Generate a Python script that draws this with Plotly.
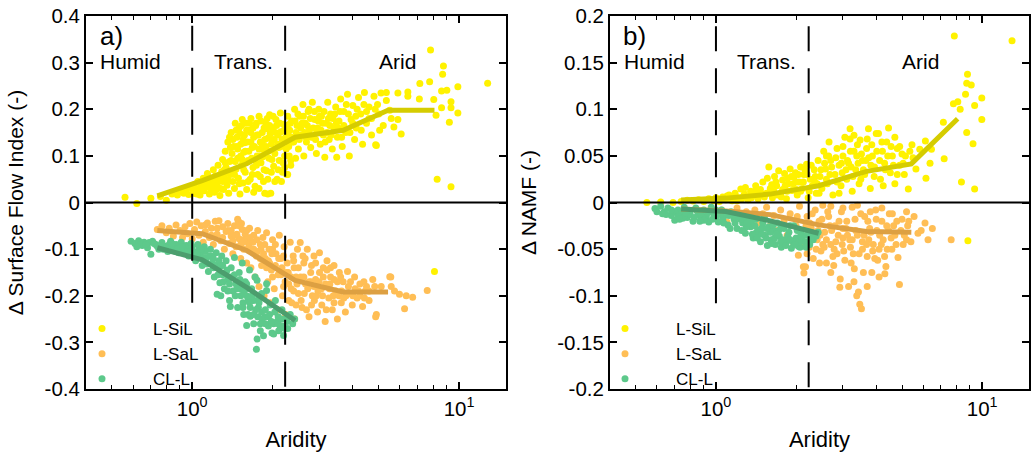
import plotly.graph_objects as go

# ---------------- data ----------------
ya_x = [0.56,0.62,0.70,0.76,0.80,0.84,0.88,0.90,0.93,0.95,0.97,0.98,
        1.01,1.02,1.04,1.05,1.07,1.08,1.1,1.11,1.13,1.14,1.16,1.17,1.18,1.2,1.21,1.22,1.24,1.25,1.27,1.28,1.29,1.3,1.31,
        1.32,1.33,1.34,1.35,1.36,1.37,1.38,1.39,1.4,1.41,1.42,1.43,1.44,1.45,1.46,1.47,1.48,1.49,1.5,1.51,1.52,1.53,1.54,1.55,1.56,1.57,1.58,1.59,1.6,
        1.62,1.63,1.65,1.66,1.68,1.69,1.7,1.72,1.73,1.75,1.76,1.78,1.8,1.81,1.83,1.85,1.86,1.88,1.9,1.92,1.94,1.95,1.97,1.98,2.0,2.02,2.04,2.06,2.08,2.1,2.12,2.14,2.16,2.18,2.2,2.22,2.24,2.26,2.28,2.3,2.32,2.34,2.36,
        1.87,1.92,1.78,1.7,
        2.4,2.42,2.44,2.47,2.5,2.53,2.56,2.6,2.62,2.65,2.68,2.72,2.75,2.78,2.82,2.85,2.88,2.92,2.95,2.98,3.02,3.05,3.1,3.14,3.18,3.22,3.26,3.3,3.35,3.4,3.45,3.5,
        3.55,3.6,3.65,3.7,3.76,3.82,3.88,3.94,4.0,4.06,4.12,4.2,4.28,4.35,4.42,4.5,4.6,4.7,4.8,4.9,5.0,5.1,5.2,
        5.34,5.34,5.5,5.57,5.7,5.9,5.9,6.07,6.43,6.43,7.1,7.13,5.04,4.87,3.48,
        7.82,8.74,8.68,7.76,9.0,8.6,9.9,12.8,8.04,9.33,8.6,9.33,9.9,8.2,9.2,8.28,9.33,8.09,
        1.03,1.06,1.09,1.12,1.15,1.19,1.23,1.26,1.3,1.33,1.36,1.39,1.42,1.45,1.48,1.51,1.54,1.57,1.6,1.63,1.66,1.69,1.72,1.75,1.78,1.81,1.84,1.87,1.9,1.93,1.96,1.99,
        2.03,2.07,2.11,2.15,2.19,2.23,2.27,2.31,2.35,2.45,2.52,2.58,2.64,2.7,2.77,2.84,2.9,2.97,3.04,3.12,3.2,3.28,3.37,3.47,3.58,3.7,3.85,4.0,4.15,4.3,4.5,4.7,4.95,
        1.44,1.5,1.56,1.62,1.68,1.74,1.8,1.86,1.92,1.98,2.04,2.1,2.16,2.22,2.28,2.34]
ya_y = [0.011,-0.002,0.009,0.013,0.005,0.018,0.016,0.024,0.02,0.028,0.017,0.033,
        0.02,0.038,0.028,0.045,0.016,0.034,0.052,0.025,0.04,0.062,0.018,0.031,0.048,0.07,0.022,0.057,0.038,0.08,0.015,0.047,0.066,0.092,0.028,
        0.055,0.11,0.075,0.037,0.13,0.02,0.088,0.06,0.15,0.105,0.045,0.12,0.03,0.17,0.072,0.14,0.095,0.052,0.16,0.018,0.125,0.08,0.178,0.042,0.108,0.145,0.065,0.17,0.028,
        0.09,0.155,0.05,0.18,0.118,0.075,0.14,0.035,0.165,0.1,0.06,0.185,0.13,0.085,0.15,0.045,0.112,0.172,0.068,0.138,0.095,0.188,0.02,0.125,0.16,0.078,0.105,0.178,0.05,0.145,0.09,0.192,0.12,0.065,0.168,0.1,0.14,0.06,0.185,0.12,0.155,0.08,0.175,
        0.02,0.018,0.03,0.022,
        0.13,0.2,0.095,0.165,0.115,0.185,0.145,0.21,0.1,0.17,0.13,0.195,0.155,0.118,0.215,0.14,0.178,0.105,0.16,0.2,0.125,0.185,0.145,0.097,0.17,0.215,0.135,0.19,0.115,0.16,0.205,0.14,
        0.175,0.222,0.12,0.195,0.15,0.232,0.1,0.178,0.208,0.135,0.16,0.225,0.19,0.125,0.236,0.17,0.205,0.145,0.228,0.122,0.19,0.235,0.165,
        0.236,0.219,0.198,0.18,0.162,0.235,0.178,0.147,0.237,0.228,0.222,0.255,0.155,0.124,0.097,
        0.327,0.293,0.275,0.259,0.241,0.239,0.248,0.256,0.221,0.216,0.203,0.203,0.192,0.187,0.172,0.05,0.034,-0.148,
        0.03,0.022,0.042,0.033,0.055,0.04,0.028,0.058,0.045,0.085,0.065,0.118,0.135,0.088,0.115,0.148,0.092,0.128,0.155,0.11,0.13,0.16,0.09,0.145,0.115,0.175,0.098,0.135,0.158,0.11,0.148,0.092,
        0.135,0.165,0.118,0.152,0.085,0.13,0.165,0.1,0.14,0.15,0.135,0.17,0.15,0.165,0.18,0.16,0.135,0.175,0.155,0.195,0.15,0.165,0.18,0.17,0.195,0.165,0.19,0.17,0.2,0.155,0.195,0.18,0.21,
        0.06,0.04,0.07,0.045,0.06,0.08,0.055,0.07,0.05,0.065,0.045,0.07,0.045,0.075,0.06,0.09]
ya_x_more = [1.0,1.04,1.08,1.12,1.16,1.2,1.24,1.28,1.32,1.36,1.4,1.43,1.47,1.52,1.55,1.58,1.61,1.64,1.67,1.71,1.74,1.77,1.8,1.83,1.86,1.89,1.91,1.95,1.99,2.01,
             2.05,2.09,2.13,2.17,2.21,2.25,2.29,2.33,2.37,2.43,2.49,2.55,2.61,2.67,2.74,2.8,2.87,2.93,3.0,3.08,3.15,3.24,3.32,3.42,3.52,3.63,3.78,3.9,4.1,4.4,4.6,4.85,
             1.38,1.46,1.53,1.66]
ya_y_more = [0.03,0.018,0.026,0.05,0.038,0.03,0.05,0.03,0.07,0.048,0.09,0.065,0.12,0.1,0.135,0.11,0.13,0.17,0.095,0.12,0.17,0.145,0.1,0.125,0.16,0.12,0.18,0.165,0.135,0.185,
             0.15,0.125,0.17,0.135,0.155,0.115,0.145,0.17,0.13,0.175,0.19,0.16,0.185,0.14,0.2,0.14,0.195,0.15,0.185,0.17,0.13,0.18,0.145,0.19,0.16,0.14,0.21,0.15,0.185,0.21,0.18,0.2,
             0.14,0.155,0.165,0.15]

oa_x = [0.74,0.77,0.8,0.82,0.85,0.87,0.9,0.92,0.94,0.96,0.98,1.0,
        1.02,1.04,1.06,1.08,1.1,1.12,1.14,1.16,1.18,1.2,1.22,1.24,1.26,1.28,1.3,
        1.32,1.34,1.36,1.38,1.4,1.42,1.44,1.46,1.48,1.5,1.52,1.54,1.56,1.58,1.6,1.49,1.53,
        1.62,1.64,1.66,1.68,1.7,1.72,1.74,1.76,1.78,1.8,1.82,1.84,1.86,1.88,1.9,1.92,1.94,1.96,1.98,2.0,
        2.03,2.06,2.09,2.12,2.15,2.18,2.21,2.24,2.27,2.3,2.33,2.36,2.39,2.42,2.45,2.48,2.5,
        2.54,2.58,2.62,2.66,2.7,2.74,2.78,2.82,2.86,2.9,2.95,3.0,3.05,3.1,3.15,3.2,3.25,3.3,3.35,3.4,3.45,3.5,
        3.56,3.62,3.68,3.75,3.82,3.9,3.98,4.06,4.15,4.25,4.35,4.45,4.5,4.6,4.75,4.83,4.87,4.9,5.11,
        5.5,5.55,5.57,5.73,5.98,6.34,6.7,6.25,7.6,
        1.12,1.18,1.24,1.3,1.36,1.42,1.47,1.52,1.57,1.63,1.69,1.75,1.81,1.87,1.93,1.99,2.05,2.11,2.17,2.23,2.29,2.35,2.41,2.47,
        2.55,2.63,2.71,2.79,2.87,2.96,3.06,3.16,3.27,3.38,3.5,3.63,3.77,3.92,4.08,4.25,4.42,4.6,
        2.0,2.2,2.4,2.6,2.8,3.0,3.2,3.4]
oa_y = [-0.058,-0.05,-0.065,-0.055,-0.072,-0.048,-0.06,-0.075,-0.052,-0.067,-0.045,-0.078,
        -0.058,-0.042,-0.07,-0.05,-0.085,-0.062,-0.044,-0.075,-0.055,-0.09,-0.04,-0.068,-0.039,-0.082,-0.052,
        -0.1,-0.062,-0.045,-0.088,-0.072,-0.11,-0.05,-0.095,-0.036,-0.078,-0.12,-0.058,-0.1,-0.068,-0.13,-0.04,-0.045,
        -0.085,-0.055,-0.14,-0.1,-0.07,-0.16,-0.115,-0.06,-0.18,-0.09,-0.135,-0.075,-0.2,-0.12,-0.065,-0.17,-0.1,-0.215,-0.145,-0.08,
        -0.185,-0.11,-0.23,-0.07,-0.155,-0.2,-0.095,-0.24,-0.13,-0.175,-0.085,-0.215,-0.115,-0.25,-0.16,-0.1,-0.195,
        -0.086,-0.225,-0.13,-0.175,-0.1,-0.245,-0.15,-0.2,-0.115,-0.165,-0.235,-0.108,-0.185,-0.14,-0.255,-0.125,-0.205,-0.16,-0.23,-0.135,-0.19,-0.25,
        -0.15,-0.215,-0.17,-0.235,-0.148,-0.195,-0.22,-0.16,-0.205,-0.175,-0.223,-0.19,-0.18,-0.21,-0.165,-0.18,-0.245,-0.24,-0.18,
        -0.159,-0.16,-0.18,-0.19,-0.197,-0.2,-0.203,-0.228,-0.189,
        -0.048,-0.07,-0.055,-0.075,-0.06,-0.082,-0.068,-0.09,-0.08,-0.095,-0.085,-0.105,-0.1,-0.09,-0.125,-0.11,-0.135,-0.12,-0.14,-0.17,-0.15,-0.185,-0.14,-0.175,
        -0.16,-0.195,-0.185,-0.17,-0.21,-0.19,-0.22,-0.175,-0.185,-0.2,-0.17,-0.19,-0.2,-0.17,-0.185,-0.2,-0.205,-0.19,
        -0.1,-0.115,-0.125,-0.115,-0.135,-0.15,-0.145,-0.165]
oa_x_more = [1.4,1.45,1.5,1.55,1.6,1.65,1.7,1.75,1.8,1.85,1.9,1.95,2.0,2.05,2.1,2.15,2.2,2.25,2.3,2.35,2.4,2.45,2.5,2.56,2.62,2.68,2.74,2.8,2.86,2.92,2.99,
             3.08,3.18,3.28,3.4,3.55,3.7,3.85,4.0,4.2,4.4,2.65,2.9,3.1,3.3,3.6]
oa_y_more = [-0.06,-0.07,-0.05,-0.085,-0.06,-0.075,-0.1,-0.08,-0.12,-0.11,-0.14,-0.13,-0.16,-0.09,-0.155,-0.12,-0.18,-0.15,-0.21,-0.16,-0.19,-0.22,-0.14,-0.21,-0.16,-0.23,-0.17,-0.22,-0.18,-0.2,-0.17,
             -0.2,-0.23,-0.175,-0.215,-0.2,-0.205,-0.18,-0.2,-0.19,-0.17,-0.12,-0.13,-0.16,-0.14,-0.16]

ga_x = [0.59,0.61,0.63,0.65,0.66,0.68,0.7,0.71,0.73,0.75,0.77,0.79,0.81,0.83,0.85,0.87,0.89,0.91,0.93,0.95,0.97,0.99,
        1.01,1.03,1.05,1.07,1.09,1.11,1.13,1.15,1.17,1.19,1.21,1.23,1.24,1.25,1.27,1.28,1.29,1.3,
        1.32,1.34,1.36,1.38,1.39,1.4,1.42,1.44,1.46,1.48,1.5,1.52,1.54,1.56,1.58,1.6,1.62,1.64,1.65,1.67,
        1.7,1.72,1.74,1.75,1.75,1.77,1.8,1.82,1.85,1.87,1.9,1.9,1.93,1.96,1.99,2.02,2.05,2.08,2.11,2.14,2.17,2.2,2.24,2.28,2.33,2.38,2.42,
        0.64,0.69,0.74,0.78,0.82,0.86,0.9,0.94,0.98,1.02,1.06,1.1,1.14,1.18,1.22,1.26,1.31,1.35,1.4,1.45,1.5,1.55,1.6,1.65,1.7,1.76,1.82,1.88,1.95,2.02,2.1,2.18,
        1.12,1.2,1.28,1.36,1.44,1.52,1.6,1.68,1.78]
ga_y = [-0.083,-0.088,-0.082,-0.092,-0.085,-0.097,-0.111,-0.083,-0.09,-0.1,-0.086,-0.094,-0.105,-0.083,-0.098,-0.09,-0.108,-0.085,-0.1,-0.092,-0.115,-0.088,
        -0.105,-0.125,-0.09,-0.112,-0.135,-0.095,-0.12,-0.148,-0.1,-0.13,-0.16,-0.108,-0.197,-0.14,-0.172,-0.2,-0.115,-0.155,
        -0.185,-0.125,-0.165,-0.21,-0.223,-0.14,-0.19,-0.118,-0.175,-0.225,-0.15,-0.2,-0.13,-0.24,-0.17,-0.264,-0.21,-0.145,-0.244,-0.185,
        -0.26,-0.16,-0.315,-0.293,-0.167,-0.225,-0.275,-0.195,-0.286,-0.245,-0.189,-0.174,-0.265,-0.22,-0.28,-0.282,-0.21,-0.255,-0.275,-0.268,-0.23,-0.285,-0.25,-0.27,-0.24,-0.26,-0.25,
        -0.09,-0.086,-0.094,-0.1,-0.09,-0.104,-0.097,-0.108,-0.1,-0.115,-0.1,-0.118,-0.132,-0.115,-0.135,-0.125,-0.17,-0.145,-0.16,-0.2,-0.175,-0.215,-0.185,-0.225,-0.21,-0.245,-0.235,-0.26,-0.24,-0.26,-0.245,-0.265,
        -0.105,-0.14,-0.135,-0.19,-0.155,-0.185,-0.2,-0.2,-0.205]
ga_x_more = [0.62,0.67,0.72,0.76,0.8,0.84,0.88,0.92,0.96,1.0,1.04,1.08,1.12,1.16,1.2,1.25,1.3,1.34,1.38,1.42,1.47,1.51,1.56,1.6,1.64,1.69,1.73,1.78,1.83,1.88,1.93,1.98,
             2.04,2.1,2.16,2.22,2.27,1.55,1.62,1.7,1.8]
ga_y_more = [-0.095,-0.09,-0.088,-0.092,-0.097,-0.088,-0.1,-0.095,-0.105,-0.095,-0.11,-0.1,-0.125,-0.115,-0.12,-0.155,-0.135,-0.15,-0.175,-0.16,-0.185,-0.165,-0.195,-0.175,-0.215,-0.195,-0.23,-0.215,-0.25,-0.23,-0.245,-0.255,
             -0.235,-0.26,-0.25,-0.27,-0.255,-0.225,-0.24,-0.24,-0.26]

yb_x = [0.55,0.62,0.69,0.74,0.78,0.82,0.86,0.9,0.94,0.98,
        1.0,1.03,1.06,1.09,1.12,1.15,1.18,1.21,1.24,1.27,1.29,1.32,1.35,1.38,1.41,1.44,1.47,1.5,1.53,1.56,1.58,1.6,
        1.63,1.66,1.69,1.72,1.75,1.78,1.81,1.84,1.87,1.9,1.93,1.96,1.99,2.02,2.05,2.08,2.11,2.14,2.19,2.22,2.26,2.3,2.34,2.38,
        2.42,2.46,2.5,2.54,2.58,2.62,2.66,2.7,2.75,2.8,2.85,2.9,2.95,3.0,3.05,3.1,3.15,3.19,3.19,3.25,3.3,3.35,3.4,3.48,3.45,
        3.55,3.62,3.68,3.74,3.8,3.87,3.94,4.0,4.08,4.15,4.22,4.3,4.38,4.45,4.52,4.6,4.7,4.8,4.9,5.0,5.1,5.28,5.35,5.5,5.64,5.83,
        6.12,6.15,6.37,6.45,7.15,7.2,7.8,7.86,8.1,8.27,8.36,8.66,8.75,8.75,8.81,9.1,9.24,9.37,9.37,9.97,9.97,12.95,8.84,
        1.05,1.12,1.2,1.28,1.36,1.44,1.52,1.62,1.7,1.78,1.86,1.95,2.04,2.13,2.24,2.36,2.48,2.6,2.72,2.85,2.98,3.12,3.27,3.42,3.58,3.75,3.93,4.12,4.33,4.55,4.8,5.05,
        1.65,1.82,2.0,2.2,2.4,2.65,2.9,3.2,3.5,3.85,4.25,4.7]
yb_y = [0.0,0.0005,0.0,0.001,0.0025,0.0015,0.003,0.001,0.004,0.002,
        0.005,0.001,0.006,0.003,0.008,0.002,0.01,0.005,0.0144,0.007,0.016,0.003,0.012,0.008,0.018,0.004,0.014,0.022,0.009,0.026,0.038,0.015,
        0.005,0.028,0.018,0.034,0.01,0.024,0.031,0.004,0.02,0.036,0.013,0.027,0.032,0.008,0.022,0.038,0.015,0.03,0.041,0.005,0.025,0.018,0.035,0.01,
        0.045,0.028,0.015,0.055,0.036,0.02,0.065,0.045,0.008,0.03,0.058,0.04,0.018,0.05,0.07,0.025,0.042,0.079,0.068,0.012,0.055,0.035,0.062,0.067,0.02,
        0.045,0.03,0.058,0.079,0.015,0.05,0.038,0.074,0.074,0.025,0.055,0.042,0.065,0.08,0.032,0.05,0.02,0.058,0.04,0.052,0.03,0.0144,0.055,0.048,0.036,0.057,
        0.066,0.026,0.042,0.057,0.086,0.047,0.106,0.1786,0.108,0.1,0.022,0.116,0.128,0.075,0.1376,0.126,0.063,0.104,0.0144,0.112,0.089,0.1735,-0.041,
        0.003,0.005,0.002,0.009,0.005,0.011,0.006,0.019,0.008,0.014,0.026,0.02,0.03,0.022,0.012,0.028,0.035,0.025,0.038,0.022,0.032,0.045,0.028,0.042,0.035,0.048,0.028,0.045,0.035,0.06,0.03,0.042,
        0.012,0.018,0.014,0.03,0.02,0.05,0.01,0.055,0.025,0.062,0.018,0.07]
yb_x_more = [1.1,1.25,1.4,1.55,1.68,1.76,1.85,1.92,2.0,2.08,2.16,2.28,2.44,2.56,2.68,2.82,2.96,3.08,3.22,3.38,3.52,3.66,3.82,4.02,4.2,4.42,4.64,4.9,5.15,5.45,
             2.35,2.6,3.0,3.3,3.7]
yb_y_more = [0.007,0.004,0.012,0.01,0.022,0.006,0.012,0.028,0.022,0.012,0.035,0.04,0.01,0.042,0.03,0.048,0.042,0.035,0.038,0.05,0.052,0.045,0.04,0.055,0.065,0.05,0.04,0.06,0.05,0.062,
             0.022,0.05,0.06,0.072,0.068]

ob_x = [1.05,1.1,1.15,1.2,1.25,1.3,1.35,1.4,1.45,1.5,1.55,1.6,1.65,1.7,1.75,1.8,1.85,1.9,1.95,2.0,
        2.04,2.06,2.1,2.13,2.14,2.17,2.2,2.24,2.28,2.32,2.36,2.4,2.44,2.48,
        2.52,2.56,2.6,2.65,2.7,2.77,2.8,2.85,2.92,2.93,2.96,3.0,3.05,3.1,3.15,3.2,3.25,3.31,3.35,3.38,3.43,3.47,3.52,3.55,3.58,3.62,3.7,3.78,3.85,3.9,3.98,
        4.05,4.12,4.2,4.31,4.35,4.4,4.48,4.55,4.65,4.75,4.83,4.89,5.0,5.1,5.25,5.4,5.55,5.74,5.9,6.1,6.26,6.5,7.65,
        2.7,3.0,3.4,3.8,4.2,4.6,5.2,
        2.02,2.12,2.22,2.3,2.38,2.46,2.55,2.63,2.72,2.82,2.9,3.02,3.12,3.22,3.33,3.45,3.6,3.72,3.88,4.02,4.18,4.38,4.58,4.78,5.05,5.3,
        2.25,2.5,2.75,3.0,3.25,3.5,3.75,4.0,4.3]
ob_y = [-0.008,-0.021,-0.012,-0.006,-0.015,-0.01,-0.018,-0.008,-0.022,-0.012,-0.005,-0.025,-0.014,-0.03,-0.008,-0.02,-0.035,-0.012,-0.042,-0.025,
        -0.0567,-0.004,-0.035,-0.069,-0.0757,-0.069,-0.015,-0.048,-0.028,-0.06,-0.008,-0.04,-0.02,-0.052,
        -0.003,-0.032,-0.065,-0.015,-0.045,-0.0675,-0.025,-0.055,-0.091,-0.082,-0.01,-0.038,-0.062,-0.02,-0.09,-0.048,-0.005,-0.071,-0.03,-0.1,-0.096,-0.109,-0.114,-0.042,-0.075,-0.015,-0.058,-0.028,-0.075,-0.045,-0.008,
        -0.062,-0.035,-0.02,-0.0765,-0.0686,-0.05,-0.012,-0.038,-0.025,-0.045,-0.059,-0.088,-0.018,-0.035,-0.025,-0.042,-0.015,-0.033,-0.03,-0.022,-0.04,-0.028,-0.04,
        -0.004,-0.006,-0.003,-0.01,-0.006,-0.012,-0.01,
        -0.015,-0.045,-0.03,-0.012,-0.05,-0.035,-0.048,-0.01,-0.03,-0.042,-0.02,-0.052,-0.035,-0.065,-0.018,-0.055,-0.035,-0.02,-0.052,-0.03,-0.045,-0.025,-0.05,-0.02,-0.045,-0.02,
        -0.022,-0.018,-0.058,-0.028,-0.04,-0.012,-0.04,-0.018,-0.058]
ob_x_more = [2.05,2.18,2.27,2.42,2.52,2.6,2.68,2.78,2.88,2.98,3.08,3.18,3.28,3.4,3.55,3.68,3.82,3.95,4.1,4.25,4.45,4.7,4.95,5.2,2.2,2.45,2.7,3.3,3.7,4.1]
ob_y_more = [-0.03,-0.025,-0.04,-0.03,-0.045,-0.04,-0.025,-0.05,-0.035,-0.045,-0.028,-0.04,-0.055,-0.035,-0.05,-0.045,-0.032,-0.06,-0.05,-0.04,-0.03,-0.035,-0.03,-0.04,-0.055,-0.065,-0.075,-0.085,-0.09,-0.08]

gb_x = [0.59,0.62,0.64,0.66,0.68,0.7,0.72,0.74,0.76,0.78,0.8,0.82,0.84,0.86,0.88,0.9,0.92,0.94,0.96,0.98,1.0,
        1.02,1.05,1.08,1.11,1.14,1.17,1.2,1.23,1.26,1.29,1.32,1.35,1.38,1.41,1.44,1.47,1.5,1.53,1.56,1.58,
        1.61,1.64,1.67,1.7,1.73,1.76,1.8,1.84,1.88,1.92,1.96,2.0,2.04,2.07,2.1,2.15,2.2,2.25,2.32,2.38,2.42,
        0.6,0.65,0.7,0.75,0.8,0.85,0.9,0.95,1.0,1.06,1.12,1.18,1.24,1.3,1.36,1.42,1.48,1.54,1.6,1.66,1.72,1.78,1.86,1.94,2.02,2.12,2.22,2.3,
        0.72,0.88,1.04,1.16,1.28,1.4,1.52,1.64,1.76,1.9,2.06]
gb_y = [-0.0065,-0.004,-0.01,-0.006,-0.014,-0.019,-0.008,-0.012,-0.005,-0.016,-0.009,-0.02,-0.006,-0.013,-0.018,-0.008,-0.015,-0.021,-0.005,-0.012,-0.017,
        -0.021,-0.008,-0.014,-0.024,-0.01,-0.018,-0.028,-0.012,-0.022,-0.033,-0.015,-0.026,-0.038,-0.018,-0.03,-0.042,-0.022,-0.035,-0.046,-0.026,
        -0.04,-0.03,-0.045,-0.022,-0.036,-0.048,-0.028,-0.042,-0.032,-0.049,-0.025,-0.038,-0.047,-0.048,-0.03,-0.042,-0.035,-0.045,-0.04,-0.036,-0.032,
        -0.01,-0.013,-0.01,-0.017,-0.013,-0.009,-0.019,-0.01,-0.008,-0.018,-0.014,-0.022,-0.018,-0.026,-0.02,-0.032,-0.028,-0.038,-0.032,-0.038,-0.03,-0.04,-0.036,-0.042,-0.03,-0.036,-0.042,-0.034,
        -0.015,-0.012,-0.013,-0.012,-0.016,-0.025,-0.016,-0.024,-0.026,-0.025,-0.042]
gb_x_more = [0.63,0.68,0.73,0.77,0.83,0.87,0.93,0.97,1.01,1.07,1.13,1.19,1.25,1.31,1.37,1.43,1.49,1.55,1.62,1.69,1.75,1.83,1.9,1.98,2.08,2.18,2.28]
gb_y_more = [-0.012,-0.008,-0.018,-0.011,-0.016,-0.02,-0.011,-0.018,-0.012,-0.022,-0.028,-0.016,-0.03,-0.022,-0.034,-0.038,-0.034,-0.028,-0.044,-0.034,-0.042,-0.046,-0.04,-0.045,-0.036,-0.048,-0.038]

trend_x = [0.74, 1.09, 1.6, 2.43, 3.68, 5.42, 8.09]
ta_yellow = [0.014, 0.047, 0.083, 0.14, 0.155, 0.198, 0.198]
ta_orange = [-0.06, -0.067, -0.103, -0.167, -0.192, -0.192]
ta_green = [-0.097, -0.123, -0.182, -0.253]
tb_yellow = [0.0026, 0.0047, 0.009, 0.018, 0.0334, 0.0414, 0.0898]
tb_orange = [-0.007, -0.009, -0.013, -0.024, -0.031, -0.032]
tb_green = [-0.007, -0.0097, -0.0197, -0.033]

series_names = ["L-SiL", "L-SaL", "CL-L"]
zone_labels = ["Humid", "Trans.", "Arid"]
zone_bounds = [1.0, 2.23]
panel_labels = ["a)", "b)"]
# vertical extent of the two zone-boundary lines (top, bottom) per panel; the x=1 line stops above the legend
zone_line_a = [(0.379, -0.218), (0.379, -0.4)]
zone_line_b = [(0.189, -0.109), (0.189, -0.2)]

# ---------------- styling ----------------
PT_COL = ["#FFF200", "#FFBE55", "#5DC98B"]
TR_COL = ["#D5CC00", "#DDA042", "#4C9E6E"]
FONT = "Liberation Sans, Arial, sans-serif"

fig = go.Figure()

panels = [
    dict(xa="x", ya="y", leg="legend",
         pts=[(ya_x + ya_x_more, ya_y + ya_y_more), (oa_x + oa_x_more, oa_y + oa_y_more), (ga_x + ga_x_more, ga_y + ga_y_more)],
         tr=[ta_yellow, ta_orange, ta_green], zl=zone_line_a),
    dict(xa="x2", ya="y2", leg="legend2",
         pts=[(yb_x + yb_x_more, yb_y + yb_y_more), (ob_x + ob_x_more, ob_y + ob_y_more), (gb_x + gb_x_more, gb_y + gb_y_more)],
         tr=[tb_yellow, tb_orange, tb_green], zl=zone_line_b),
]

for p in panels:
    for i, (xs, ys) in enumerate(p["pts"]):
        fig.add_trace(go.Scatter(x=xs, y=ys, mode="markers", name=series_names[i],
                                 marker=dict(color=PT_COL[i], size=7, line=dict(width=0)),
                                 xaxis=p["xa"], yaxis=p["ya"], legend=p["leg"], showlegend=True))
    for i, ty in enumerate(p["tr"]):
        fig.add_trace(go.Scatter(x=trend_x[:len(ty)], y=ty, mode="lines",
                                 line=dict(color=TR_COL[i], width=5), showlegend=False,
                                 xaxis=p["xa"], yaxis=p["ya"], hoverinfo="skip"))
    for b, (top, bot) in zip(zone_bounds, p["zl"]):
        fig.add_trace(go.Scatter(x=[b, b], y=[top, bot], mode="lines",
                                 line=dict(color="black", width=2, dash="25px,17px"),
                                 showlegend=False, xaxis=p["xa"], yaxis=p["ya"], hoverinfo="skip"))
    fig.add_trace(go.Scatter(x=[0.4, 15], y=[0, 0], mode="lines",
                             line=dict(color="black", width=2), showlegend=False,
                             xaxis=p["xa"], yaxis=p["ya"], hoverinfo="skip"))

# page body margin is removed by post_script below, so figure = window
W, H = 1033, 452
def px(v):
    return v / W
def py(v):
    return (H - v) / H

dom_a = [px(86), px(506)]
dom_b = [px(610), px(1029)]
dom_y = [py(389), py(16)]

minor_vals = [0.5, 0.6, 0.7, 0.8, 0.9, 2, 3, 4, 5, 6, 7, 8, 9]

def xaxis(dom, anchor):
    return dict(type="log", range=[-0.398, 1.176], domain=dom, anchor=anchor, automargin=False,
                tickvals=[1, 10], ticktext=["10<sup>0</sup>", "10<sup>1</sup>"],
                ticks="inside", ticklen=7, tickwidth=1.5, tickcolor="black",
                minor=dict(tickvals=minor_vals, ticks="inside", ticklen=4, tickwidth=1.2, tickcolor="black"),
                showline=True, linewidth=2, linecolor="black", mirror="allticks",
                showgrid=False, zeroline=False, ticklabeloverflow="allow",
                tickfont=dict(size=20.5, color="black", family=FONT),
                title=dict(text="Aridity", font=dict(size=22, color="black", family=FONT)))

ya_ticks = [-0.4, -0.3, -0.2, -0.1, 0, 0.1, 0.2, 0.3, 0.4]
yb_ticks = [-0.2, -0.15, -0.1, -0.05, 0, 0.05, 0.1, 0.15, 0.2]

def yaxis(rng, tv, title, anchor):
    return dict(range=list(rng), domain=dom_y, anchor=anchor, automargin=False,
                tickvals=tv, ticktext=[("%g" % v) for v in tv],
                ticks="inside", ticklen=7, tickwidth=1.5, tickcolor="black",
                showline=True, linewidth=2, linecolor="black", mirror="allticks",
                showgrid=False, zeroline=False, ticklabeloverflow="allow",
                tickfont=dict(size=20.5, color="black", family=FONT),
                title=dict(text=title, font=dict(size=21, color="black", family=FONT)))

annotations = []
zone_x = [[130, 243, 397], [654, 766, 920]]
for k in range(2):
    for j, lab in enumerate(zone_labels):
        annotations.append(dict(text=lab, x=px(zone_x[k][j]), y=py(62), xref="paper", yref="paper",
                                xanchor="center", yanchor="middle", showarrow=False,
                                font=dict(size=21, color="black", family=FONT)))
    annotations.append(dict(text=panel_labels[k], x=px([98, 621][k]), y=py(36), xref="paper", yref="paper",
                            xanchor="left", yanchor="middle", showarrow=False,
                            font=dict(size=26, color="black", family=FONT)))

leg_common = dict(bgcolor="rgba(0,0,0,0)", borderwidth=0, font=dict(size=17, color="black", family=FONT),
                  xanchor="left", yanchor="top", itemwidth=92, tracegroupgap=0)

fig.update_layout(
    width=W, height=H, autosize=False,
    margin=dict(l=0, r=0, t=0, b=0, autoexpand=False),
    paper_bgcolor="white", plot_bgcolor="white",
    xaxis=xaxis(dom_a, "y"), yaxis=yaxis((-0.4, 0.4), ya_ticks, "Δ Surface Flow Index (-)", "x"),
    xaxis2=xaxis(dom_b, "y2"), yaxis2=yaxis((-0.2, 0.2), yb_ticks, "Δ NAMF (-)", "x2"),
    legend=dict(x=px(51), y=py(311), **leg_common),
    legend2=dict(x=px(574), y=py(311), **leg_common),
    annotations=annotations,
    showlegend=True,
)

fig.write_html("out.html", config={"displayModeBar": False},
               post_script="document.body.style.margin='0';document.body.style.overflow='hidden';")
